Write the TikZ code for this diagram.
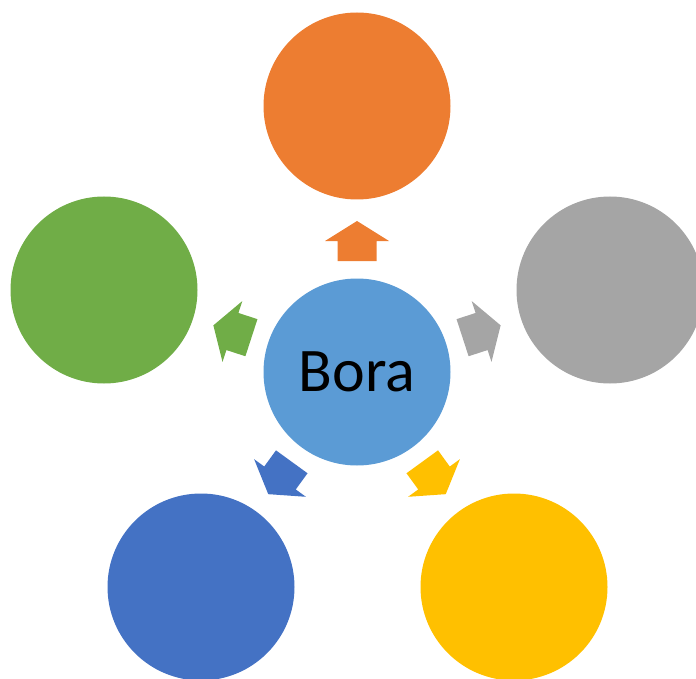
\documentclass[tikz,border=0pt]{standalone}
\usepackage{fontspec}
\setmainfont{Carlito}
\definecolor{cmain}{HTML}{5B9BD5}
\definecolor{corange}{HTML}{ED7D31}
\definecolor{cgray}{HTML}{A5A5A5}
\definecolor{cyellow}{HTML}{FFC000}
\definecolor{cdblue}{HTML}{4472C4}
\definecolor{cgreen}{HTML}{70AD47}
\begin{document}
\begin{tikzpicture}[x=1pt,y=-1pt,
  circ/.style={circle, minimum size=187pt, inner sep=0pt, draw=none}]
\useasboundingbox (0,0) rectangle (696,679);
\node[circ, fill=cmain, font=\fontsize{62}{62}\selectfont] (c) at (357,372) {Bora};
\node[circ, fill=corange] (n1) at (357,106) {};
\node[circ, fill=cgray] (n2) at (610,290) {};
\node[circ, fill=cyellow] (n3) at (514,587) {};
\node[circ, fill=cdblue] (n4) at (201,587) {};
\node[circ, fill=cgreen] (n5) at (104,290) {};
\foreach \a/\col in {90/corange, 18/cgray, -54/cyellow, -126/cdblue, 162/cgreen}
  \fill[\col, shift={(c.center)}, rotate=\a]
    (111,-19.5) -- (131,-19.5) -- (131,-32) -- (151,0) -- (131,32) -- (131,19.5) -- (111,19.5) -- cycle;
\end{tikzpicture}
\end{document}
